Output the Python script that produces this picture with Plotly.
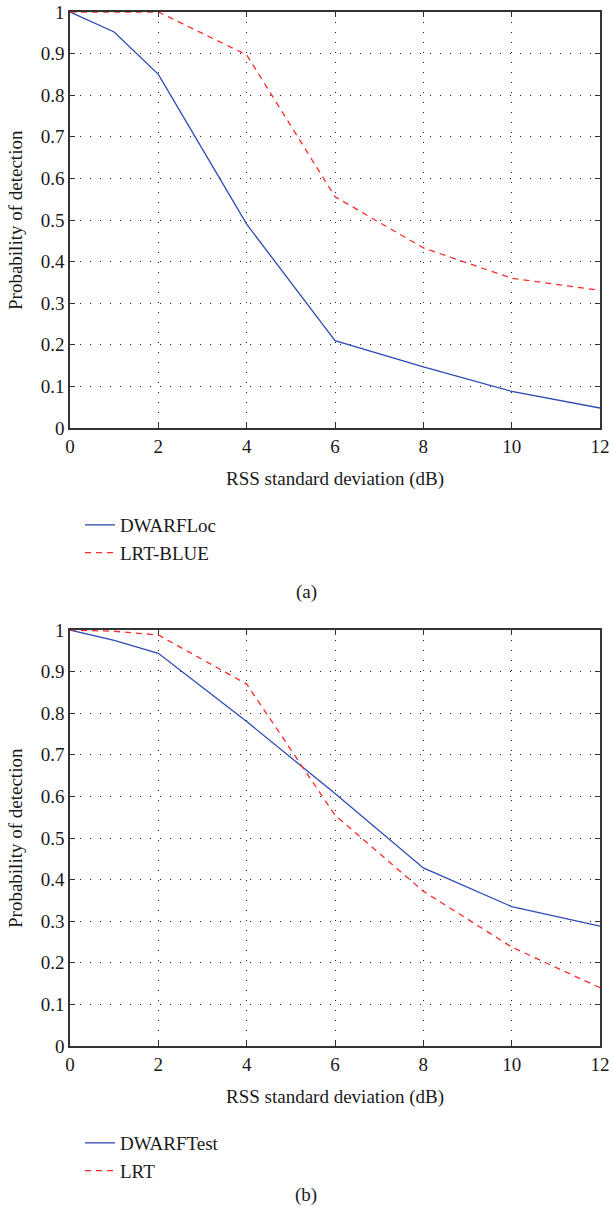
import plotly.graph_objects as go

# ---- data ----
x_a_dwarf = [0, 1, 2, 4, 6, 8, 10, 12]
y_a_dwarf = [1.0, 0.952, 0.85, 0.49, 0.21, 0.147, 0.088, 0.048]
x_a_lrt = [0, 1, 2, 4, 6, 8, 10, 12]
y_a_lrt = [1.0, 1.0, 1.0, 0.897, 0.556, 0.433, 0.36, 0.331]

x_b_dwarf = [0, 1, 2, 4, 6, 8, 10, 12]
y_b_dwarf = [1.0, 0.975, 0.944, 0.78, 0.607, 0.428, 0.335, 0.288]
x_b_lrt = [0, 1, 2, 4, 6, 8, 10, 12]
y_b_lrt = [1.0, 0.997, 0.988, 0.87, 0.555, 0.372, 0.238, 0.14]

names_a = ["DWARFLoc", "LRT-BLUE"]
names_b = ["DWARFTest", "LRT"]
x_ticks = [0, 2, 4, 6, 8, 10, 12]
y_ticks = [0, 0.1, 0.2, 0.3, 0.4, 0.5, 0.6, 0.7, 0.8, 0.9, 1]
y_ticktext = ["0", "0.1", "0.2", "0.3", "0.4", "0.5", "0.6", "0.7", "0.8", "0.9", "1"]
x_title = "RSS standard deviation (dB)"
y_title = "Probability of detection"
panel_labels = ["(a)", "(b)"]

W, H = 613, 1219
BLUE = "#2d4bb2"
RED = "#ff2a2a"
FONT = "Liberation Serif"
FS = 19

def px_x(p):
    return p / W

def px_y(p):
    return 1 - p / H

fig = go.Figure()
fig.add_trace(go.Scatter(x=x_a_dwarf, y=y_a_dwarf, mode="lines", name=names_a[0],
                         line=dict(color=BLUE, width=1.3), xaxis="x", yaxis="y", legend="legend"))
fig.add_trace(go.Scatter(x=x_a_lrt, y=y_a_lrt, mode="lines", name=names_a[1],
                         line=dict(color=RED, width=1.3, dash="6px,5px"), xaxis="x", yaxis="y", legend="legend"))
fig.add_trace(go.Scatter(x=x_b_dwarf, y=y_b_dwarf, mode="lines", name=names_b[0],
                         line=dict(color=BLUE, width=1.3), xaxis="x2", yaxis="y2", legend="legend2"))
fig.add_trace(go.Scatter(x=x_b_lrt, y=y_b_lrt, mode="lines", name=names_b[1],
                         line=dict(color=RED, width=1.3, dash="6px,5px"), xaxis="x2", yaxis="y2", legend="legend2"))

xdom = [px_x(70), px_x(600)]
font = dict(family=FONT, size=FS, color="#1a1a1a")
ax_common = dict(
    showline=True, linecolor="#333", linewidth=1.5, mirror="ticks",
    ticks="inside", ticklen=5, tickcolor="#333", tickwidth=1,
    showgrid=True, gridcolor="#222", gridwidth=1, griddash="1px,9px",
    zeroline=False, tickfont=font, automargin=False,
)

xa = dict(ax_common, range=[0, 12], tickvals=x_ticks, domain=xdom,
          title=dict(text=x_title, font=font, standoff=16))
ya = dict(ax_common, range=[0, 1], tickvals=y_ticks, ticktext=y_ticktext,
          ticklabelstandoff=0)

fig.update_layout(
    width=W, height=H, margin=dict(l=0, r=0, t=0, b=0),
    paper_bgcolor="white", plot_bgcolor="white",
    xaxis=dict(xa, anchor="y"),
    yaxis=dict(ya, anchor="x", domain=[px_y(428), px_y(12)]),
    xaxis2=dict(xa, anchor="y2"),
    yaxis2=dict(ya, anchor="x2", domain=[px_y(1046), px_y(630)]),
    legend=dict(x=px_x(80), y=px_y(506), xanchor="left", yanchor="top",
                font=font, tracegroupgap=0, bgcolor="rgba(0,0,0,0)"),
    legend2=dict(x=px_x(80), y=px_y(1124), xanchor="left", yanchor="top",
                 font=font, tracegroupgap=0, bgcolor="rgba(0,0,0,0)"),
    annotations=[
        dict(text=y_title, textangle=-90, x=px_x(15), y=px_y(220), xref="paper", yref="paper",
             xanchor="center", yanchor="middle", showarrow=False, font=font),
        dict(text=y_title, textangle=-90, x=px_x(15), y=px_y(838), xref="paper", yref="paper",
             xanchor="center", yanchor="middle", showarrow=False, font=font),
        dict(text=panel_labels[0], x=px_x(306), y=px_y(592), xref="paper", yref="paper",
             showarrow=False, font=font),
        dict(text=panel_labels[1], x=px_x(306), y=px_y(1208), xref="paper", yref="paper",
             showarrow=False, font=font),
    ],
)

fig.write_html("out.html", config={"displayModeBar": False},
               post_script="document.body.style.margin='0';")
